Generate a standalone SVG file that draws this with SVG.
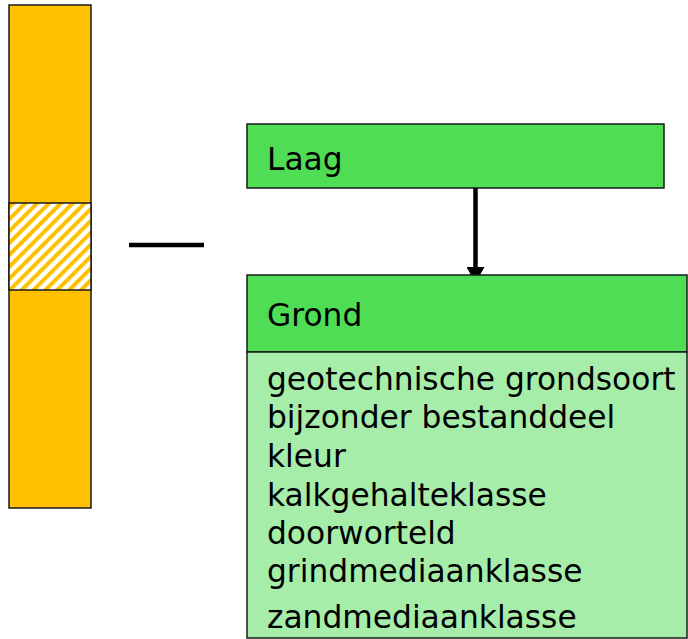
<svg xmlns="http://www.w3.org/2000/svg" width="688" height="639" viewBox="0 0 688 639">
<style>
.t{font-family:"DejaVu Sans",Verdana,sans-serif;font-size:31.3px;fill:#000}
.box{stroke:#1a1a1a;stroke-width:1.5}
</style>
<defs>
<pattern id="hatch" width="8.4" height="8.4" patternUnits="userSpaceOnUse" patternTransform="rotate(45)">
<rect width="8.4" height="8.4" fill="#fff"/>
<rect width="4" height="8.4" fill="#FFC000"/>
</pattern>
<marker id="ah" markerWidth="18" markerHeight="18" refX="1" refY="9" orient="auto" markerUnits="userSpaceOnUse">
<path d="M0,0 L16,9 L0,18 Z" fill="#000"/>
</marker>
</defs>
<rect width="688" height="639" fill="#fff"/>
<g id="column">
<rect x="9" y="5" width="82" height="503" fill="#FFC000" class="box"/>
<rect x="9" y="203" width="82" height="87" fill="url(#hatch)" class="box"/>
</g>
<g id="dash">
<line x1="129" y1="245" x2="204" y2="245" stroke="#000" stroke-width="4.5"/>
</g>
<g id="connectors">
<line x1="475.5" y1="188" x2="475.5" y2="268" stroke="#000" stroke-width="4.5" marker-end="url(#ah)"/>
</g>
<g id="laag">
<rect x="247" y="124" width="417" height="64" fill="#4FDD55" class="box"/>
<text x="267" y="170" class="t">Laag</text>
</g>
<g id="grond">
<rect x="247" y="275" width="440" height="77" fill="#4FDD55" class="box"/>
<rect x="247" y="352" width="440" height="286" fill="#A6EDAA" class="box"/>
<text x="267" y="326" class="t">Grond</text>
<text x="267" y="390" class="t">geotechnische grondsoort</text>
<text x="267" y="428" class="t">bijzonder bestanddeel</text>
<text x="267" y="467" class="t">kleur</text>
<text x="267" y="506" class="t">kalkgehalteklasse</text>
<text x="267" y="544" class="t">doorworteld</text>
<text x="267" y="582" class="t">grindmediaanklasse</text>
<text x="267" y="628" class="t">zandmediaanklasse</text>
</g>
</svg>
